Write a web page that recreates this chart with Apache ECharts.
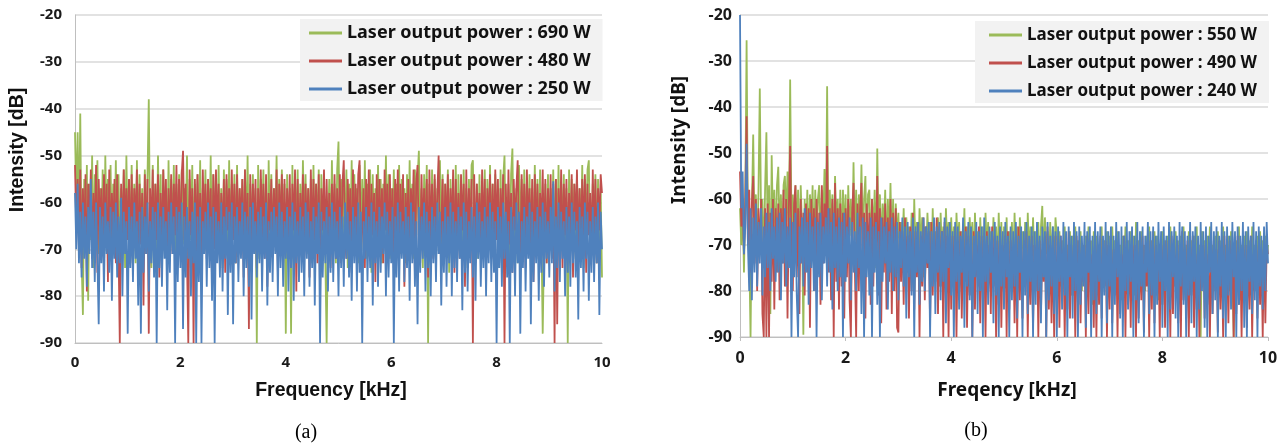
<!DOCTYPE html>
<html>
<head>
<meta charset="utf-8">
<script src="https://cdn.jsdelivr.net/npm/echarts@6/dist/echarts.min.js"></script>
<style>
html,body{margin:0;padding:0;background:#fff;}
#chart{width:1287px;height:445px;}
</style>
</head>
<body>
<div id="chart"></div>
<script>
// Frequency step (kHz) between consecutive spectrum samples, 0..10 kHz (401 samples)
const STEP = 0.025;
const xTicks = [0, 2, 4, 6, 8, 10];
const yTicks = [-90, -80, -70, -60, -50, -40, -30, -20];

// ---------- Panel (a) ----------
const namesA = ['Laser output power : 690 W', 'Laser output power : 480 W', 'Laser output power : 250 W'];
const greenA = [
-45,-60,-45,-66,-41,-72,-84,-55,-70,-52,-81,-56,-68,-50,-74,-54,-67,-51,-71,-57,
-69,-53,-75,-50,-66,-55,-72,-52,-70,-56,-67,-51,-73,-54,-69,-57,-66,-53,-74,-50,
-68,-55,-71,-52,-67,-56,-73,-51,-70,-54,-66,-57,-72,-53,-69,-55,-38,-68,-74,-52,
-67,-56,-71,-50,-69,-54,-75,-53,-66,-57,-72,-51,-70,-55,-68,-52,-73,-56,-67,-54,
-71,-53,-69,-57,-66,-50,-74,-55,-68,-52,-72,-56,-67,-54,-70,-51,-75,-57,-66,-53,
-71,-55,-69,-50,-73,-54,-67,-56,-70,-52,-68,-57,-74,-53,-66,-55,-72,-51,-69,-56,
-67,-54,-73,-52,-70,-57,-66,-55,-71,-53,-68,-50,-75,-56,-69,-54,-67,-57,-90,-52,
-72,-55,-66,-53,-70,-56,-74,-51,-68,-54,-71,-57,-67,-50,-73,-55,-69,-53,-66,-56,
-88,-54,-70,-57,-88,-52,-72,-55,-67,-53,-74,-56,-69,-51,-66,-54,-71,-57,-68,-55,
-73,-52,-70,-56,-67,-53,-75,-54,-69,-57,-72,-90,-66,-55,-70,-51,-68,-56,-73,-53,
-47,-70,-55,-72,-57,-67,-53,-74,-56,-69,-51,-71,-54,-66,-57,-73,-52,-68,-55,-70,
-51,-72,-56,-67,-53,-75,-54,-69,-57,-71,-52,-66,-55,-73,-56,-68,-50,-70,-54,-72,
-57,-67,-53,-74,-56,-69,-52,-71,-55,-66,-57,-73,-54,-68,-51,-70,-56,-72,-53,-67,
-55,-49,-69,-57,-74,-54,-66,-52,-90,-56,-71,-53,-68,-55,-73,-57,-67,-51,-70,-54,
-72,-56,-68,-53,-75,-55,-67,-57,-70,-52,-73,-54,-66,-56,-71,-53,-69,-57,-74,-55,
-68,-52,-51,-70,-67,-56,-72,-54,-69,-57,-66,-53,-73,-55,-70,-52,-68,-56,-71,-54,
-67,-57,-74,-53,-69,-55,-50,-71,-66,-56,-72,-54,-48.5,-70,-68,-57,-73,-52,-67,-55,
-71,-53,-69,-56,-66,-54,-74,-57,-70,-52,-68,-55,-72,-53,-67,-88,-69,-56,-73,-54,
-70,-57,-66,-53,-72,-55,-68,-52,-71,-56,-67,-54,-73,-57,-90,-53,-69,-55,-66,-56,
-72,-54,-70,-57,-68,-52,-74,-55,-67,-53,-51,-71,-69,-56,-66,-54,-73,-55,-70,-57,-76
];
const redA = [
-52,-66,-55,-70,-53,-74,-57,-68,-54,-79,-56,-67,-53,-72,-58,-69,-52,-75,-55,-66,
-57,-71,-54,-68,-56,-77,-53,-70,-58,-67,-55,-73,-54,-69,-90,-56,-71,-53,-66,-57,
-68,-55,-73,-54,-70,-57,-66,-53,-75,-56,-69,-58,-82,-54,-71,-55,-88,-57,-67,-53,
-72,-56,-68,-54,-76,-58,-70,-53,-66,-55,-74,-57,-69,-54,-71,-56,-67,-52,-73,-55,
-70,-54,-49,-68,-56,-72,-90,-53,-67,-57,-90,-55,-71,-54,-69,-58,-74,-53,-66,-56,
-72,-55,-68,-57,-77,-54,-70,-53,-67,-56,-73,-58,-69,-55,-75,-54,-66,-57,-71,-53,
-68,-56,-73,-54,-70,-57,-66,-55,-76,-53,-69,-58,-87,-54,-71,-56,-67,-55,-74,-57,
-70,-53,-68,-56,-72,-54,-78,-58,-66,-55,-71,-57,-69,-53,-75,-56,-67,-54,-73,-55,
-70,-57,-68,-54,-74,-56,-66,-53,-79,-55,-71,-58,-69,-54,-72,-56,-67,-57,-76,-53,
-70,-55,-68,-56,-73,-54,-80,-57,-66,-53,-71,-55,-69,-58,-74,-56,-67,-54,-72,-57,
-69,-54,-73,-56,-51,-68,-72,-55,-67,-57,-75,-53,-70,-56,-68,-54,-51,-71,-66,-57,
-74,-55,-69,-53,-72,-56,-67,-58,-77,-54,-70,-55,-68,-57,-73,-53,-66,-56,-71,-54,
-69,-57,-74,-55,-67,-53,-72,-56,-70,-54,-78,-58,-68,-55,-71,-57,-66,-53,-75,-56,
-52,-69,-73,-54,-67,-57,-70,-55,-76,-53,-68,-56,-72,-54,-69,-58,-50,-71,-66,-55,
-73,-56,-68,-54,-71,-57,-67,-53,-75,-55,-69,-58,-72,-54,-66,-56,-78,-53,-70,-57,
-68,-55,-90,-54,-73,-56,-67,-58,-71,-53,-69,-55,-74,-57,-66,-54,-72,-56,-70,-53,
-68,-55,-73,-57,-67,-54,-90,-56,-71,-53,-69,-58,-75,-55,-66,-57,-51,-70,-72,-54,
-68,-56,-74,-53,-67,-57,-70,-55,-77,-54,-69,-56,-72,-58,-66,-53,-71,-55,-73,-57,
-69,-54,-72,-56,-90,-55,-86,-57,-68,-53,-74,-56,-67,-55,-71,-58,-69,-54,-76,-56,
-66,-53,-72,-57,-70,-55,-68,-54,-75,-56,-67,-58,-71,-53,-69,-55,-73,-57,-66,-54,-58
];
const blueA = [
-58,-70,-56,-73,-62,-76,-60,-72,-63,-78,-61,-71,-55,-74,-62,-77,-60,-72,-86,-61,
-73,-63,-79,-60,-71,-64,-75,-61,-81,-62,-72,-60,-76,-63,-73,-59,-80,-62,-71,-64,
-88,-61,-74,-63,-77,-60,-72,-64,-82,-62,-88,-61,-75,-63,-71,-60,-79,-64,-73,-61,
-76,-62,-90,-60,-74,-63,-78,-61,-72,-64,-83,-62,-75,-60,-71,-63,-90,-61,-77,-62,
-74,-60,-87,-63,-76,-61,-72,-64,-80,-62,-73,-60,-90,-63,-77,-61,-90,-64,-71,-62,
-78,-60,-74,-63,-81,-61,-90,-62,-73,-64,-76,-60,-79,-63,-72,-61,-84,-62,-75,-60,
-86,-63,-73,-61,-77,-64,-72,-60,-80,-62,-74,-63,-78,-61,-85,-60,-71,-64,-76,-62,
-73,-61,-79,-63,-72,-60,-82,-64,-75,-62,-77,-61,-71,-63,-80,-60,-74,-62,-78,-64,
-72,-61,-79,-63,-74,-60,-81,-62,-73,-64,-77,-61,-75,-63,-80,-60,-72,-62,-78,-64,
-74,-61,-82,-63,-71,-60,-90,-62,-76,-64,-73,-61,-79,-63,-75,-60,-77,-62,-72,-64,
-80,-61,-74,-63,-78,-60,-72,-62,-76,-64,-81,-61,-73,-63,-79,-60,-75,-62,-90,-64,
-72,-61,-77,-63,-74,-60,-82,-62,-73,-64,-78,-61,-75,-63,-71,-60,-80,-62,-76,-64,
-73,-61,-90,-63,-76,-60,-79,-62,-72,-64,-77,-61,-74,-63,-81,-60,-73,-62,-78,-64,
-86,-61,-75,-63,-72,-60,-79,-62,-74,-64,-80,-61,-73,-63,-77,-60,-71,-62,-82,-64,
-75,-61,-78,-63,-73,-60,-80,-62,-74,-64,-77,-61,-72,-63,-83,-60,-75,-62,-79,-64,
-73,-61,-76,-63,-81,-60,-72,-62,-78,-64,-74,-61,-80,-63,-73,-60,-77,-62,-75,-64,
-90,-61,-74,-63,-78,-60,-72,-62,-76,-64,-90,-61,-75,-63,-80,-60,-73,-62,-88,-64,
-74,-61,-79,-63,-72,-60,-86,-62,-77,-64,-73,-61,-81,-63,-75,-60,-78,-62,-72,-64,
-76,-61,-73,-55.5,-79,-63,-74,-60,-77,-62,-72,-64,-80,-61,-75,-63,-78,-60,-73,-62,
-76,-64,-85,-61,-74,-63,-79,-60,-72,-62,-81,-64,-75,-61,-77,-63,-73,-60,-84,-62,-70
];

// ---------- Panel (b) ----------
const namesB = ['Laser output power : 550 W', 'Laser output power : 490 W', 'Laser output power : 240 W'];
const greenB = [
-62,-70,-61,-76,-60,-25.5,-66,-72,-90,-62,-46,-68,-59,-74,-58,-36,-66,-60,-75,-58,
-45.5,-69,-57,-85,-50.5,-66,-58,-72,-57,-53,-68,-59,-71,-57,-55,-65,-54,-70,-34,-66,
-59,-72,-57,-68,-58,-74,-57,-66,-89.5,-60,-70,-58,-73,-59,-67,-57,-75,-58,-68,-60,
-57,-71,-58,-66,-53.5,-69,-35.5,-72,-58,-67,-59,-74,-55,-66,-60,-70,-58,-73,-58,-68,
-59,-75,-57,-68,-60,-72,-52,-69,-58,-74,-59,-67,-52.5,-70,-60,-55,-71,-59,-58,-73,
-60,-68,-58,-75,-49,-69,-59,-72,-61,-67,-58,-74,-60,-69,-56.5,-71,-60,-76,-61,-69,
-63,-74,-65,-71,-62,-76,-64,-70,-66,-73,-63,-78,-60,-72,-65,-75,-62,-71,-64,-77,
-66,-73,-63,-70,-65,-76,-62,-74,-67,-71,-64,-79,-63,-72,-66,-75,-62,-70,-65,-76,
-64,-73,-66,-77,-63,-71,-65,-75,-67,-72,-62,-78,-66,-74,-64,-70,-65,-76,-63,-73,
-67,-79,-64,-72,-66,-75,-63,-71,-65,-77,-67,-74,-64,-70,-66,-76,-63,-73,-65,-78,
-66,-74,-64,-77,-67,-72,-65,-76,-63,-73,-66,-79,-64,-71,-67,-75,-65,-78,-63,-72,
-66,-76,-64,-74,-67,-73,-65,-77,-66,-61.5,-75,-64,-72,-67,-78,-65,-74,-66,-76,-64,
-68,-75,-67,-79,-69,-73,-66,-77,-70,-76,-67,-81,-68,-74,-66,-78,-69,-75,-67,-80,
-70,-74,-68,-77,-66,-76,-69,-83,-67,-75,-68,-78,-70,-74,-66,-79,-69,-76,-67,-77,
-68,-80,-66,-75,-69,-78,-67,-74,-70,-82,-68,-76,-66,-79,-69,-75,-67,-77,-68,-81,
-65,-74,-69,-78,-67,-76,-70,-80,-68,-75,-66,-79,-69,-77,-67,-74,-68,-82,-70,-76,
-67,-78,-69,-75,-68,-81,-66,-76,-70,-79,-67,-74,-69,-82,-68,-77,-66,-75,-70,-80,
-67,-76,-69,-78,-68,-75,-66,-81,-70,-90,-67,-77,-69,-79,-68,-74,-66,-80,-70,-76,
-68,-79,-67,-75,-69,-81,-66,-77,-70,-74,-68,-80,-67,-76,-90,-78,-69,-75,-66,-82,
-70,-76,-68,-79,-67,-74,-69,-80,-66,-77,-70,-75,-68,-81,-67,-76,-69,-78,-68,-74,-70
];
const redB = [
-54,-66,-60,-72,-60,-42,-70,-58,-76,-61,-55,-74,-60,-80,-62,-72,-60,-85,-90,-62,
-90,-61,-90,-63,-78,-60,-84,-62,-76,-61,-82,-62,-74,-58,-79,-60,-86,-62,-48.5,-72,
-80,-61,-57,-77,-62,-85,-60,-74,-63,-81,-61,-76,-62,-88,-60,-73,-62,-80,-60,-75,
-63,-83,-57,-74,-61,-70,-48.5,-76,-62,-82,-60,-90,-56.5,-78,-62,-84,-61,-79,-63,-86,
-62,-77,-60,-82,-90,-63,-56.5,-75,-90,-61,-80,-62,-56.5,-78,-63,-86,-61,-74,-63,-83,
-60,-79,-63,-72,-55,-81,-62,-87,-64,-76,-61,-84,-64,-78,-60,-85,-63,-80,-62,-88,
-89,-65,-78,-67,-83,-64,-76,-68,-86,-66,-80,-63,-84,-67,-77,-65,-90,-68,-79,-64,
-82,-66,-75,-67,-87,-65,-81,-68,-78,-64,-85,-66,-79,-67,-90,-65,-83,-68,-90,-66,
-84,-68,-79,-66,-90,-69,-82,-67,-86,-70,-78,-66,-88,-68,-81,-69,-90,-67,-84,-70,
-77,-66,-87,-68,-82,-69,-90,-67,-80,-70,-85,-66,-79,-68,-90,-69,-83,-67,-88,-70,
-81,-68,-90,-67,-84,-69,-78,-71,-87,-68,-90,-66,-82,-70,-86,-69,-79,-67,-90,-71,
-83,-68,-88,-70,-80,-67,-90,-69,-85,-71,-78,-68,-90,-66,-84,-70,-87,-69,-90,-68,
-82,-70,-88,-68,-79,-71,-90,-69,-84,-67,-86,-70,-81,-72,-90,-68,-83,-69,-87,-71,
-78,-70,-90,-68,-85,-69,-80,-72,-88,-67,-90,-70,-83,-68,-86,-71,-79,-69,-90,-70,
-84,-68,-87,-71,-81,-69,-90,-70,-85,-72,-78,-68,-90,-69,-83,-71,-88,-67,-80,-70,
-90,-69,-86,-72,-82,-68,-89,-70,-79,-71,-90,-69,-84,-67,-87,-70,-81,-72,-90,-68,
-83,-70,-88,-69,-80,-71,-90,-68,-85,-72,-79,-69,-87,-70,-90,-67,-82,-71,-86,-69,
-90,-70,-81,-68,-88,-72,-84,-69,-90,-71,-79,-70,-86,-68,-83,-72,-90,-69,-85,-70,
-80,-71,-89,-69,-84,-70,-90,-68,-82,-72,-87,-69,-79,-71,-90,-70,-85,-68,-83,-72,
-90,-69,-81,-70,-88,-71,-84,-68,-90,-72,-80,-69,-86,-70,-83,-71,-90,-69,-87,-70,-72
];
const blueB = [
-20,-62,-54,-72,-66,-48,-70,-80,-62,-82,-64,-76,-61,-79,-65,-74,-62,-81,-66,-77,
-63,-75,-65,-80,-62,-73,-66,-78,-64,-76,-63,-82,-65,-74,-62,-79,-66,-75,-64,-90,
-65,-77,-63,-81,-90,-66,-74,-64,-79,-62,-76,-65,-83,-63,-75,-66,-80,-64,-90,-65,
-77,-63,-82,-66,-74,-64,-79,-62,-76,-65,-84,-63,-75,-66,-80,-64,-77,-65,-90,-63,
-78,-66,-74,-64,-82,-65,-76,-67,-80,-63,-75,-66,-85,-64,-90,-65,-77,-67,-81,-64,
-90,-66,-76,-65,-83,-67,-90,-64,-78,-66,-74,-65,-84,-67,-76,-64,-80,-66,-77,-65,
-82,-67,-75,-64,-79,-66,-86,-65,-77,-67,-81,-64,-90,-66,-76,-65,-83,-67,-78,-64,
-80,-66,-74,-65,-90,-67,-79,-64,-85,-66,-76,-65,-82,-67,-78,-64,-87,-66,-75,-65,
-81,-67,-90,-65,-78,-66,-84,-68,-76,-64,-88,-67,-79,-65,-82,-66,-90,-68,-77,-65,
-85,-67,-80,-66,-90,-64,-78,-68,-83,-66,-76,-67,-87,-65,-81,-68,-90,-66,-79,-67,
-84,-65,-77,-68,-90,-66,-82,-67,-79,-65,-86,-68,-76,-66,-90,-67,-81,-65,-85,-68,
-78,-66,-90,-67,-83,-65,-80,-68,-87,-66,-77,-67,-90,-65,-82,-68,-79,-66,-85,-67,
-90,-66,-78,-68,-84,-65,-81,-67,-90,-66,-77,-68,-86,-65,-80,-67,-90,-66,-83,-68,
-79,-65,-88,-67,-76,-66,-90,-68,-82,-65,-85,-67,-78,-66,-90,-68,-81,-65,-87,-67,
-79,-66,-90,-68,-83,-65,-77,-67,-86,-66,-90,-68,-80,-65,-84,-67,-78,-66,-90,-68,
-82,-65,-87,-67,-79,-66,-90,-68,-76,-65,-85,-67,-81,-66,-90,-68,-83,-65,-78,-67,
-88,-66,-80,-68,-90,-65,-84,-67,-77,-66,-86,-68,-90,-65,-79,-66,-83,-67,-90,-68,
-81,-65,-87,-67,-78,-66,-90,-68,-84,-65,-80,-67,-88,-66,-90,-68,-76,-65,-85,-67,
-82,-66,-90,-68,-79,-65,-86,-67,-90,-66,-81,-68,-84,-65,-77,-67,-90,-66,-83,-68,
-80,-65,-88,-67,-90,-66,-78,-68,-85,-65,-82,-67,-90,-66,-79,-68,-84,-66,-80,-65,-74
];

const COLORS = ['#9bbb59', '#c0504d', '#4f81bd'];

function toPairs(arr) { return arr.map((v, i) => [+(i * STEP).toFixed(4), v]); }

const chart = echarts.init(document.getElementById('chart'), null, {renderer: 'canvas'});

function makeX(idx, fontSize, margin, ticks) {
  return {
    type: 'value', gridIndex: idx, min: xTicks[0], max: xTicks[xTicks.length - 1], interval: 2,
    axisLine: {show: true, onZero: false, lineStyle: {color: '#bfbfbf', width: 1}},
    axisTick: {show: ticks, length: 4, lineStyle: {color: '#bfbfbf'}},
    splitLine: {show: false},
    axisLabel: {fontFamily: 'Noto Sans', fontWeight: 'bold', fontSize: fontSize, color: '#1a1a1a', margin: margin}
  };
}
function makeY(idx, fontSize, margin) {
  return {
    type: 'value', gridIndex: idx, min: yTicks[0], max: yTicks[yTicks.length - 1], interval: 10,
    axisLine: {show: true, lineStyle: {color: '#bfbfbf', width: 1}},
    axisTick: {show: false},
    splitLine: {show: true, lineStyle: {color: '#d9d9d9', width: 1.5}},
    axisLabel: {fontFamily: 'Noto Sans', fontWeight: 'bold', fontSize: fontSize, color: '#1a1a1a', margin: margin}
  };
}
function makeSeries(name, data, color, idx, width) {
  return {
    name: name, type: 'line', xAxisIndex: idx, yAxisIndex: idx,
    data: toPairs(data), showSymbol: false, symbol: 'none',
    color: color, lineStyle: {color: color, width: width}, itemStyle: {color: color},
    sampling: null, silent: true, emphasis: {disabled: true}, clip: true
  };
}
function makeLegend(names, left, top, fontSize, pad) {
  return {
    data: names, orient: 'vertical', left: left, top: top,
    backgroundColor: '#f2f2f2', padding: pad, itemGap: 8,
    itemWidth: 33, itemHeight: 3, icon: 'rect', selectedMode: false,
    textStyle: {fontFamily: 'Noto Sans', fontWeight: 'bold', fontSize: fontSize, color: '#111', lineHeight: 20}
  };
}

const option = {
  animation: false,
  backgroundColor: '#ffffff',
  grid: [
    {left: 75, top: 15, width: 527, height: 328},
    {left: 740, top: 15, width: 528, height: 322}
  ],
  xAxis: [makeX(0, 15, 12, false), makeX(1, 16, 13, true)],
  yAxis: [makeY(0, 15, 13), makeY(1, 16, 8)],
  legend: [
    makeLegend(namesA, 300, 19, 18, [4, 12, 2, 9]),
    makeLegend(namesB, 975, 21, 17, [4, 12, 2, 14])
  ],
  series: [
    makeSeries(namesA[0], greenA, COLORS[0], 0, 1.8),
    makeSeries(namesA[1], redA, COLORS[1], 0, 1.8),
    makeSeries(namesA[2], blueA, COLORS[2], 0, 1.8),
    makeSeries(namesB[0], greenB, COLORS[0], 1, 1.8),
    makeSeries(namesB[1], redB, COLORS[1], 1, 1.8),
    makeSeries(namesB[2], blueB, COLORS[2], 1, 1.8)
  ],
  graphic: [
    {type: 'text', x: 18, y: 150, rotation: Math.PI / 2,
     style: {text: 'Intensity [dB]', font: 'bold 19.5px "Liberation Sans"', fill: '#111', align: 'center', verticalAlign: 'middle'}},
    {type: 'text', x: 680, y: 140, rotation: Math.PI / 2,
     style: {text: 'Intensity [dB]', font: 'bold 19px "Noto Sans"', fill: '#111', align: 'center', verticalAlign: 'middle'}},
    {type: 'text', x: 331, y: 391,
     style: {text: 'Frequency [kHz]', font: 'bold 19.5px "Liberation Sans"', fill: '#111', align: 'center', verticalAlign: 'middle'}},
    {type: 'text', x: 1007, y: 391,
     style: {text: 'Freqency [kHz]', font: 'bold 19px "Noto Sans"', fill: '#111', align: 'center', verticalAlign: 'middle'}},
    {type: 'text', x: 306, y: 433,
     style: {text: '(a)', font: '20px "Liberation Serif"', fill: '#000', align: 'center', verticalAlign: 'middle'}},
    {type: 'text', x: 976, y: 431,
     style: {text: '(b)', font: '20px "Liberation Serif"', fill: '#000', align: 'center', verticalAlign: 'middle'}}
  ]
};
chart.setOption(option);
</script>
</body>
</html>
